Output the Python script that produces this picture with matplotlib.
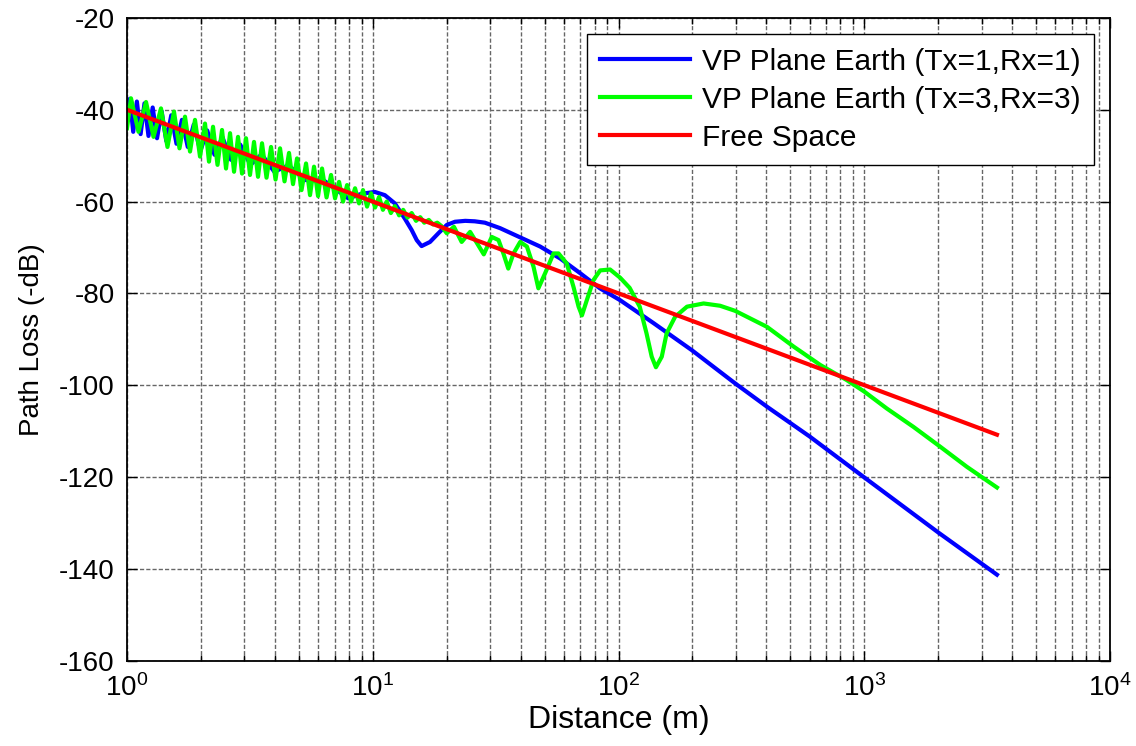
import matplotlib
matplotlib.use('Agg')
import matplotlib.pyplot as plt
from matplotlib.ticker import LogLocator, NullFormatter

# ---------------- data ----------------
fs_d = [1, 10, 100, 1000, 3467]
fs_v = [-40, -60, -80, -100, -110.8]

blue_d = [1.0, 1.027, 1.06, 1.097, 1.136, 1.178, 1.223, 1.272, 1.325, 1.383,
          1.445, 1.514, 1.59, 1.673, 1.767, 1.87, 1.988, 2.12, 2.27, 2.446,
          2.65, 2.89, 3.18, 3.53, 3.975, 4.54, 5.3, 6.36, 7.95, 9.0,
          10.2, 11.2, 12.3, 13.5, 14.4, 15.1, 15.8, 17.1, 18.5, 20.0,
          21.6, 23.8, 26.0, 28.6, 33.0, 39.8, 48.0, 57.9, 69.8, 84.0,
          101.6, 139, 199, 298, 402, 600, 1000, 2000, 3467]
blue_v = [-38.5, -37.6, -44.8, -38.2, -45.3, -38.6, -45.7, -39.5, -46.2, -40.3,
          -46.8, -41.2, -47.4, -42.2, -48.1, -43.2, -49.0, -44.5, -49.8, -46.0,
          -50.9, -47.6, -52.0, -49.7, -53.5, -52.1, -55.3, -55.5, -59.3, -58.3,
          -57.9, -58.6, -60.4, -63.7, -66.2, -68.4, -69.7, -68.8, -66.9, -65.1,
          -64.4, -64.2, -64.3, -64.6, -65.8, -67.8, -69.8, -72.4, -75.6, -78.9,
          -81.5, -86.5, -92.4, -99.6, -104.7, -111.2, -120.1, -132.1, -141.3]

green_d = [1.0, 1.038, 1.114, 1.195, 1.282, 1.375, 1.461, 1.553, 1.635, 1.722,
           1.805, 1.891, 1.982, 2.077, 2.156, 2.239, 2.335, 2.436, 2.529, 2.626,
           2.726, 2.830, 2.938, 3.050, 3.166, 3.287, 3.413, 3.543, 3.696, 3.856,
           4.022, 4.195, 4.375, 4.563, 4.738, 4.919, 5.131, 5.352, 5.556, 5.768,
           5.989, 6.218, 6.486, 6.765, 7.024, 7.293, 7.572, 7.861, 8.161, 8.472,
           8.795, 9.131, 9.480, 9.843, 10.22, 10.61, 11.0, 11.4, 11.85, 12.3,
           12.8, 13.3, 13.85, 14.4, 15.0, 15.6, 16.2, 16.9, 17.6, 18.3,
           19.0, 20.0, 21.4, 23.0, 24.9, 28.3, 30.5, 32.5, 34.0, 35.6,
           37.4, 39.8, 42.4, 45.1, 47.2, 50.3, 54.4, 57.0, 61.6, 65.6,
           68.8, 71.0, 74.3, 79.1, 84.2, 92.4, 101.6, 111, 122, 130,
           136.5, 142, 150, 157, 170, 190, 222, 259, 298, 402,
           516, 662, 849, 1000, 1236, 1586, 2036, 2616, 3467]
green_v = [-44.0, -37.5, -44.8, -38.3, -45.9, -39.7, -48.1, -40.4, -48.4, -41.5,
           -49.1, -42.2, -50.2, -43.0, -51.3, -43.7, -52.0, -44.4, -52.8, -45.1,
           -53.5, -45.9, -53.9, -46.2, -54.2, -47.0, -54.6, -47.3, -54.8, -48.1,
           -55.2, -48.4, -55.6, -49.4, -56.2, -50.6, -57.5, -51.7, -58.6, -52.4,
           -58.8, -52.8, -59.1, -54.2, -59.3, -55.7, -60.0, -56.4, -60.0, -57.1,
           -60.4, -57.5, -61.1, -58.2, -61.3, -59.0, -61.8, -60.0, -62.5, -61.0,
           -63.0, -61.8, -63.5, -62.5, -64.2, -63.4, -64.6, -64.0, -65.0, -64.6,
           -65.3, -66.9, -65.5, -68.8, -66.6, -71.5, -67.7, -68.4, -71.3, -74.6,
           -71.3, -68.8, -69.8, -74.2, -78.9, -75.6, -71.3, -71.3, -73.5, -78.6,
           -82.9, -84.8, -81.5, -77.1, -75.0, -74.8, -76.6, -78.8, -82.9, -88.7,
           -93.8, -96.1, -93.8, -88.7, -85.1, -82.9, -82.2, -82.7, -83.8, -87.3,
           -91.6, -95.6, -98.9, -101.4, -105.1, -109.1, -113.4, -117.8, -122.3]

labels = ['VP Plane Earth (Tx=1,Rx=1)', 'VP Plane Earth (Tx=3,Rx=3)', 'Free Space']
y_ticks = [-160, -140, -120, -100, -80, -60, -40, -20]

# ---------------- figure ----------------
plt.rcParams['font.family'] = ['Liberation Sans', 'DejaVu Sans']
plt.rcParams['axes.unicode_minus'] = False
plt.rcParams['mathtext.fontset'] = 'custom'
plt.rcParams['mathtext.rm'] = 'Liberation Sans'

W, H = 1136, 746
fig = plt.figure(figsize=(W / 100, H / 100), dpi=100)
left, right, top, bottom = 127, 1110, 18, 660.5
ax = fig.add_axes([left / W, 1 - bottom / H, (right - left) / W, (bottom - top) / H])

lw = 3.0
ax.plot(blue_d, blue_v, color=(0, 0, 1), lw=lw, label=labels[0], solid_joinstyle='round')
ax.plot(green_d, green_v, color=(0, 1, 0), lw=lw, label=labels[1], solid_joinstyle='round')
ax.plot(fs_d, fs_v, color=(1, 0, 0), lw=lw, label=labels[2])

ax.set_xscale('log')
ax.set_xlim(1, 1e4)
ax.set_ylim(-160, -20)
ax.set_yticks(y_ticks)
ax.xaxis.set_major_locator(LogLocator(base=10, numticks=10))
ax.xaxis.set_minor_locator(LogLocator(base=10, subs=range(2, 10), numticks=20))
ax.xaxis.set_minor_formatter(NullFormatter())

gkw = dict(color='0.4', linestyle=(0, (3, 1.5)), linewidth=1.0)
ax.grid(True, which='major', axis='both', **gkw)
ax.grid(True, which='minor', axis='x', **gkw)
ax.set_axisbelow(True)

ax.tick_params(which='both', direction='in', top=True, right=True, labelsize=20,
               width=1.0, colors='black')
ax.tick_params(which='major', length=7)
ax.tick_params(axis='y', which='major', pad=9)
ax.tick_params(axis='x', which='major', pad=10)
ax.tick_params(which='minor', length=4)
for s in ax.spines.values():
    s.set_linewidth(1.3)

ax.set_xlabel('Distance (m)', fontsize=23, labelpad=2)
ax.set_ylabel('Path Loss (-dB)', fontsize=20, labelpad=10)

leg = ax.legend(loc='upper right', fontsize=21.5, frameon=True, fancybox=False,
                edgecolor='black', framealpha=1, handlelength=3.0, handletextpad=0.4,
                borderaxespad=0.55, borderpad=0.45, labelspacing=0.33)
leg.get_frame().set_linewidth(1.0)

fig.savefig('out.png', dpi=100)
